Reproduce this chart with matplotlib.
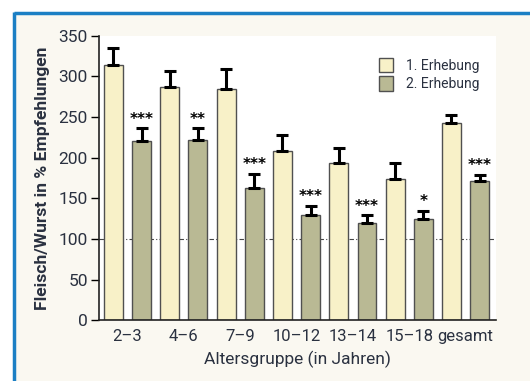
import numpy as np
import matplotlib.pyplot as plt
from matplotlib.patches import Rectangle
from matplotlib.lines import Line2D

# Fleisch/Wurst-Verzehr in % der Empfehlungen, zwei Erhebungen
gruppen = ['2\u20133', '4\u20136', '7\u20139', '10\u201312', '13\u201314', '15\u201318', 'gesamt']
erhebung_1 = [314, 287, 285, 208, 194, 174, 243]
fehler_1 = [21, 19, 24, 20, 18, 20, 10]
erhebung_2 = [220, 222, 163, 130, 120, 125, 171]
fehler_2 = [16, 14, 17, 11, 9, 10, 8]
signifikanz = ['***', '**', '***', '***', '***', '*', '***']

plt.rcParams['font.family'] = ['Roboto', 'DejaVu Sans']
textfarbe = '#2a3140'

fig = plt.figure(figsize=(5.3, 3.81), dpi=100, facecolor='white')

# cremefarbener Kasten mit blauem Rahmen oben und links
fig.add_artist(Rectangle((14/530, 0), 1, (381-13)/381, transform=fig.transFigure,
                         facecolor='#faf8f1', edgecolor='none', zorder=-5))
fig.add_artist(Line2D([14/530, 1], [(381-13)/381]*2, transform=fig.transFigure,
                      color='#1b7fc4', lw=2.5, zorder=-4, solid_capstyle='butt'))
fig.add_artist(Line2D([14/530]*2, [0, (381-12)/381], transform=fig.transFigure,
                      color='#1b7fc4', lw=2.5, zorder=-4, solid_capstyle='butt'))

ax = fig.add_axes([99/530, (381-320.3)/381, (496-99)/530, (320.3-35.7)/381])
ax.set_zorder(1)
ax.set_facecolor('white')

x = np.arange(len(gruppen)) * 2
breite = 0.67
x1 = x - 0.5
x2 = x + 0.5

ax.axhline(100, color='#444444', lw=0.8, linestyle=(0, (4, 2, 1, 2)), zorder=1)

ax.bar(x1, erhebung_1, breite, color='#f8f1c8', edgecolor='#505050', lw=1.0,
       label='1. Erhebung', zorder=2)
ax.bar(x2, erhebung_2, breite, color='#b9b994', edgecolor='#505050', lw=1.0,
       label='2. Erhebung', zorder=2)

# nur obere Fehlerbalken
ax.errorbar(x1, erhebung_1, yerr=[np.zeros(7), fehler_1], fmt='none', ecolor='black',
            elinewidth=2.2, capsize=4.5, capthick=2.2, zorder=3)
ax.errorbar(x2, erhebung_2, yerr=[np.zeros(7), fehler_2], fmt='none', ecolor='black',
            elinewidth=2.2, capsize=4.5, capthick=2.2, zorder=3)

for xi, wert, f, s in zip(x2, erhebung_2, fehler_2, signifikanz):
    ax.text(xi, wert + f + 2, s, ha='center', va='bottom', fontsize=11,
            fontweight='bold', color='black', family='DejaVu Sans')

ax.set_xlim(-1.01, 13.08)
ax.set_ylim(0, 350)
ax.set_yticks(range(0, 351, 50))
ax.set_xticks(x)
ax.set_xticklabels(gruppen)
ax.tick_params(axis='x', length=0, pad=6, labelsize=12, labelcolor=textfarbe)
ax.tick_params(axis='y', length=6, width=1, direction='out', pad=2,
               labelsize=12.5, labelcolor=textfarbe)
for side in ['top', 'right']:
    ax.spines[side].set_visible(False)
for side in ['left', 'bottom']:
    ax.spines[side].set_linewidth(1.2)
    ax.spines[side].set_color('#222222')

ax.set_ylabel('Fleisch/Wurst in % Empfehlungen', fontsize=12.6, fontweight='bold',
              color=textfarbe, labelpad=6)
ax.set_xlabel('Altersgruppe (in Jahren)', fontsize=12.5, color=textfarbe, labelpad=5)

ax.legend(loc='upper left', bbox_to_anchor=(0.675, 0.965), frameon=False, fontsize=10,
          handlelength=1.0, handleheight=1.2, labelspacing=0.25, handletextpad=0.9,
          labelcolor=textfarbe)

fig.savefig('out.png', dpi=100, facecolor=fig.get_facecolor())
